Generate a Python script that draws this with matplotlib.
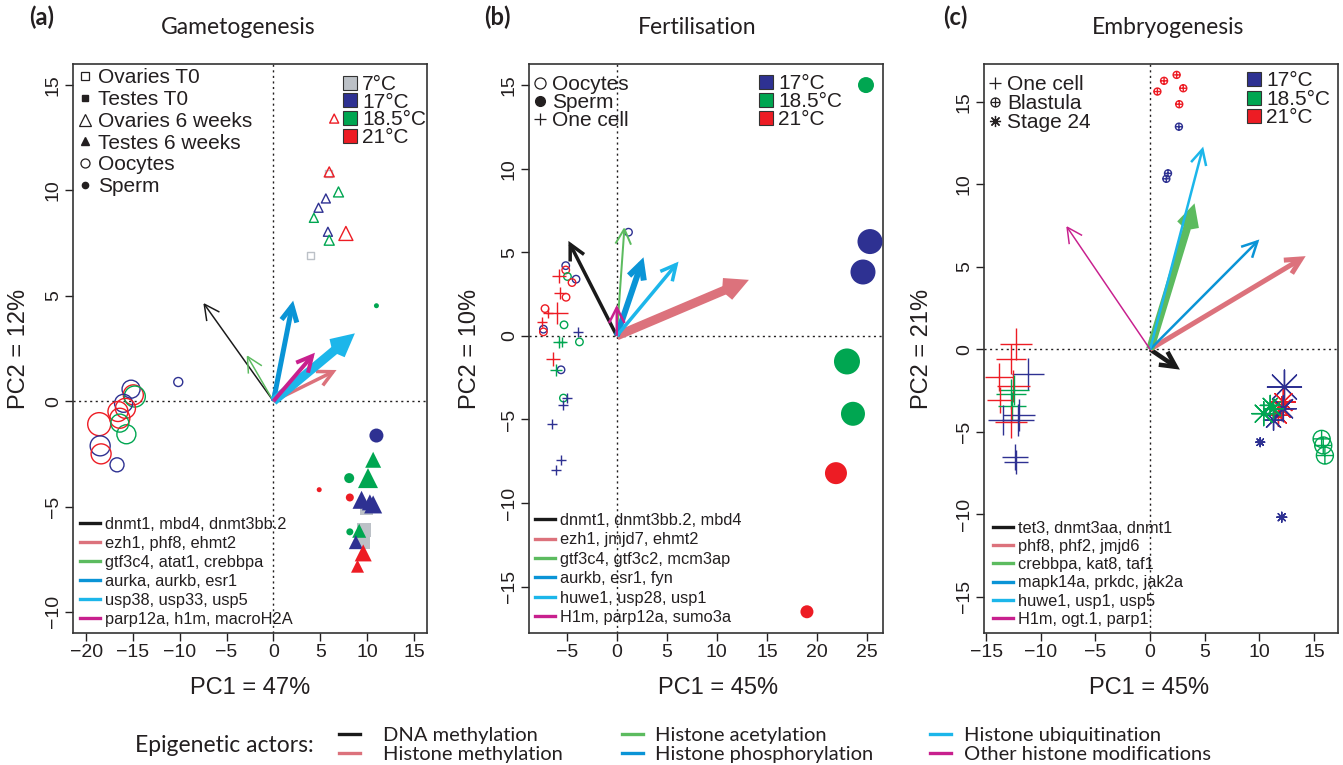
import matplotlib
matplotlib.use("Agg")
import matplotlib.pyplot as plt
import numpy as np
from matplotlib.lines import Line2D
from matplotlib.path import Path

plt.rcParams["font.family"] = ["Liberation Sans", "DejaVu Sans"]
plt.rcParams["axes.unicode_minus"] = True

# --- colours ---------------------------------------------------------
TEMP_COLOURS = {"7": "#bcc1c7", "17": "#2e3192", "18.5": "#00a651", "21": "#ed1c24"}
ACTORS = ["DNA methylation", "Histone methylation", "Histone acetylation",
          "Histone phosphorylation", "Histone ubiquitination",
          "Other histone modifications"]
ACTOR_COLOURS = ["#1a1a1a", "#dc727c", "#5cbb5f", "#0a94d6", "#1cb6ea", "#c8208e"]

# --- (a) gametogenesis -----------------------------------------------
a_ovT0_x = [5.9, 3.97]
a_ovT0_y = [10.8, 6.89]
a_ovT0_t = ["7", "7"]
a_ovT0_cex = [7, 7]

a_teT0_x = [9.94, 9.69, 9.58]
a_teT0_y = [-5.1, -6.1, -6.7]
a_teT0_t = ["7", "7", "7"]
a_teT0_cex = [13, 14, 13]

a_ov6_x = [5.96, 6.95, 5.6, 4.82, 4.32, 5.82, 7.74, 5.96, 6.49]
a_ov6_y = [10.88, 9.93, 9.62, 9.18, 8.70, 8.04, 7.96, 7.64, 13.41]
a_ov6_t = ["21", "18.5", "17", "17", "18.5", "17", "21", "18.5", "21"]
a_ov6_cex = [10, 10, 9, 9, 9, 9, 14, 10, 9]

a_te6_x = [10.65, 10.1, 9.41, 10.3, 10.65, 9.16, 8.8, 9.59, 8.98]
a_te6_y = [-2.78, -3.65, -4.68, -4.8, -4.9, -6.15, -6.69, -7.2, -7.83]
a_te6_t = ["18.5", "18.5", "17", "17", "17", "18.5", "17", "21", "21"]
a_te6_cex = [16, 20, 18, 16, 18, 14, 14, 17, 13]

a_oo_x = [-18.6, -18.5, -18.4, -16.7, -15.7, -15.2, -14.96, -14.8, -16.0,
          -15.8, -16.6, -16.4, -16.4, -10.16]
a_oo_y = [-1.09, -2.12, -2.5, -3.02, -1.57, 0.57, 0.30, 0.22, -0.1,
          -0.34, -0.49, -0.81, -1.04, 0.91]
a_oo_t = ["21", "17", "21", "17", "18.5", "17", "21", "18.5", "17",
          "21", "21", "21", "18.5", "17"]
a_oo_cex = [23, 20, 20, 14, 19, 18, 20, 21, 18, 20, 20, 20, 18, 9]

a_sp_x = [11.0, 8.09, 4.89, 8.16, 8.16, 11.0]
a_sp_y = [-1.63, -3.65, -4.2, -4.57, -6.2, 4.53]
a_sp_t = ["17", "18.5", "21", "21", "18.5", "18.5"]
a_sp_cex = [14, 10, 5, 8, 7, 5]

a_arrow_x = [-7.49, 6.74, -2.86, 2.11, 8.7, 4.43]
a_arrow_y = [4.67, 1.48, 2.19, 4.77, 3.22, 2.3]
a_arrow_lwd = [1.5, 3.5, 1.5, 5, 9, 4]
a_genes = ["dnmt1, mbd4, dnmt3bb.2", "ezh1, phf8, ehmt2", "gtf3c4, atat1, crebbpa",
           "aurka, aurkb, esr1", "usp38, usp33, usp5", "parp12a, h1m, macroH2A"]

# --- (b) fertilisation -----------------------------------------------
b_oo_x = [1.17, -5.1, -5.1, -4.93, -4.07, -4.47, -5.07, -7.17, -5.27,
          -7.33, -7.33, -3.73, -5.57, -5.33]
b_oo_y = [6.2, 4.2, 3.94, 3.55, 3.39, 3.19, 2.31, 1.63, 0.66,
          0.40, 0.24, -0.36, -2.03, -3.72]
b_oo_t = ["17", "17", "21", "18.5", "17", "21", "21", "21", "18.5",
          "17", "21", "18.5", "17", "18.5"]

b_sp_x = [24.9, 25.3, 24.6, 23.0, 23.6, 21.9, 19.0]
b_sp_y = [15.0, 5.64, 3.82, -1.53, -4.66, -8.21, -16.5]
b_sp_t = ["18.5", "17", "17", "18.5", "18.5", "21", "21"]
b_sp_cex = [16, 25, 25, 26, 24, 22, 13]

b_oc_x = [-5.77, -5.67, -6.0, -6.83, -7.5, -3.9, -5.77, -5.5, -6.33, -6.07,
          -5.0, -5.33, -6.43, -5.6, -6.07]
b_oc_y = [3.59, 2.55, 1.39, 1.39, 0.8, 0.26, -0.36, -0.36, -1.39, -2.03,
          -3.72, -4.12, -5.28, -7.45, -8.0]
b_oc_t = ["21", "21", "21", "21", "21", "17", "18.5", "18.5", "21", "18.5",
          "17", "17", "17", "17", "17"]
b_oc_cex = [14, 12, 22, 10, 10, 10, 12, 10, 14, 12, 10, 10, 10, 10, 10]

b_arrow_x = [-4.83, 13.2, 0.77, 2.67, 6.17, 0.0]
b_arrow_y = [5.68, 3.35, 6.53, 4.7, 4.44, 1.85]
b_arrow_lwd = [3.5, 9, 2, 6, 3.5, 2.5]
b_genes = ["dnmt1, dnmt3bb.2, mbd4", "ezh1, jmjd7, ehmt2", "gtf3c4, gtf3c2, mcm3ap",
           "aurkb, esr1, fyn", "huwe1, usp28, usp1", "H1m, parp12a, sumo3a"]

# --- (c) embryogenesis -----------------------------------------------
c_oc_x = [-12.3, -12.75, -11.2, -13.8, -12.5, -12.45, -12.7, -13.7, -12.6,
          -12.0, -13.45, -12.75, -12.1, -12.4, -12.3]
c_oc_y = [0.3, -0.57, -1.48, -1.68, -2.25, -2.49, -2.73, -3.1, -3.46,
          -4.0, -4.3, -4.41, -4.3, -6.54, -6.84]
c_oc_t = ["21", "21", "17", "21", "21", "18.5", "18.5", "21", "18.5",
          "17", "17", "21", "17", "17", "17"]
c_oc_cex = [32, 30, 32, 28, 32, 30, 30, 26, 28, 32, 30, 32, 32, 26, 24]

c_bl_x = [0.67, 1.28, 2.43, 3.04, 2.67, 2.64, 1.64, 1.49, 15.7, 15.85, 16.0]
c_bl_y = [15.63, 16.28, 16.64, 15.83, 14.86, 13.5, 10.67, 10.34, -5.43, -5.83, -6.44]
c_bl_t = ["21", "21", "21", "21", "21", "17", "17", "17", "18.5", "18.5", "18.5"]
c_bl_cex = [7, 7, 7, 7, 7, 7, 7, 7, 17, 17, 17]

c_st_x = [10.08, 12.05, 12.3, 12.2, 12.05, 11.75, 12.2, 11.3, 11.0, 10.4, 11.3]
c_st_y = [-5.63, -10.18, -2.29, -3.2, -3.6, -4.0, -3.6, -4.3, -3.4, -3.9, -3.6]
c_st_t = ["17", "17", "17", "21", "21", "21", "17", "17", "18.5", "18.5", "18.5"]
c_st_cex = [9, 10, 34, 24, 24, 22, 26, 20, 20, 24, 20]

c_arrow_x = [2.73, 14.24, 4.07, 10.0, 4.86, -7.68]
c_arrow_y = [-1.23, 5.65, 8.85, 6.66, 12.29, 7.49]
c_arrow_lwd = [4.5, 5, 8, 2.5, 2.5, 1.5]
c_genes = ["tet3, dnmt3aa, dnmt1", "phf8, phf2, jmjd6", "crebbpa, kat8, taf1",
           "mapk14a, prkdc, jak2a", "huwe1, usp1, usp5", "H1m, ogt.1, parp1"]

# circle with a plus inside (R pch 10)
OPLUS = Path.make_compound_path(
    Path.unit_circle(),
    Path([[-1, 0], [1, 0], [0, -1], [0, 1]],
         [Path.MOVETO, Path.LINETO, Path.MOVETO, Path.LINETO]))
ASTER = (8, 2, 0)
INK = "#231f20"
W, H = 1343, 765
AX_LEFT, AX_TOP, AX_BOTTOM, AX_W = [73, 529, 984], 64, 633, 354
AX_H = AX_BOTTOM - AX_TOP
TITLE_FONT = ["Lato", "DejaVu Sans"]


def s_pt(px):
    # marker width in image pixels -> scatter area in points^2 (dpi 100)
    return (np.asarray(px, dtype=float) * 0.72) ** 2


def points(ax, x, y, temps, cex, marker, filled, lw=1.0):
    cols = [TEMP_COLOURS[t] for t in temps]
    if filled:
        ax.scatter(x, y, s=s_pt(cex), marker=marker, c=cols, linewidths=0, zorder=3)
    elif marker in ("+", ASTER):
        ax.scatter(x, y, s=s_pt(cex), marker=marker, c=cols, linewidths=lw, zorder=3)
    else:
        ax.scatter(x, y, s=s_pt(cex), marker=marker, facecolors="none",
                   edgecolors=cols, linewidths=lw, zorder=3)


def arrows(ax, xs, ys, lwds):
    for x, y, w, col in zip(xs, ys, lwds, ACTOR_COLOURS):
        ax.annotate("", xy=(x, y), xytext=(0, 0), zorder=4,
                    arrowprops=dict(arrowstyle="->,head_length=0.55,head_width=0.28",
                                    color=col, lw=w * 0.72, shrinkA=0, shrinkB=0,
                                    mutation_scale=20, joinstyle="miter",
                                    capstyle="butt"))


def frame(ax, xlim, ylim, xticks, yticks, xlabel, ylabel, xlab_pos, ylab_pos):
    ax.set_xlim(xlim)
    ax.set_ylim(ylim)
    ax.set_xticks(xticks)
    ax.set_yticks(yticks)
    ax.tick_params(direction="out", length=6, width=1, labelsize=14, pad=2,
                   colors=INK)
    ax.tick_params(axis="y", labelrotation=90)
    for lab in ax.get_yticklabels():
        lab.set_va("center")
    for sp in ax.spines.values():
        sp.set_linewidth(1.2)
        sp.set_color("#333333")
    ax.axhline(0, color=INK, lw=1, ls=(0, (1.5, 2.5)), zorder=1)
    ax.axvline(0, color=INK, lw=1, ls=(0, (1.5, 2.5)), zorder=1)
    ax.set_xlabel(xlabel, fontsize=17, va="center", color=INK)
    ax.set_ylabel(ylabel, fontsize=17, va="center", color=INK)
    ax.xaxis.set_label_coords(xlab_pos, -0.097)
    ax.yaxis.set_label_coords(ylab_pos, 0.5)


def anchor(ax_i, x_px, y_px):
    # image pixel -> axes fraction of panel ax_i
    return ((x_px - AX_LEFT[ax_i]) / AX_W, (AX_BOTTOM - y_px) / AX_H)


def gene_legend(ax, ax_i, genes, x_px, bottom_px, spacing):
    handles = [Line2D([], [], color=c, lw=2.4) for c in ACTOR_COLOURS]
    ax.legend(handles, genes, loc="lower left", bbox_to_anchor=anchor(ax_i, x_px, bottom_px),
              frameon=False, fontsize=11.8, handlelength=1.2, handletextpad=0.3,
              labelspacing=spacing, borderaxespad=0, borderpad=0, labelcolor=INK)


def temp_legend(ax, ax_i, temps, x_px, top_px, spacing):
    handles = [Line2D([], [], marker="s", ls="", ms=9.5, mfc=TEMP_COLOURS[t],
                      mec="#333333", mew=0.8) for t in temps]
    leg = ax.legend(handles, [f"{t}°C" for t in temps], loc="upper left",
                    bbox_to_anchor=anchor(ax_i, x_px, top_px), frameon=False,
                    fontsize=15, handlelength=0.6, handletextpad=0.29,
                    labelspacing=spacing, borderaxespad=0, borderpad=0,
                    labelcolor=INK)
    ax.add_artist(leg)


def marker_legend(ax, ax_i, handles, labels, x_px, top_px, spacing, pad):
    leg = ax.legend(handles, labels, loc="upper left",
                    bbox_to_anchor=anchor(ax_i, x_px, top_px), frameon=False,
                    fontsize=15, handlelength=0.7, handletextpad=pad,
                    labelspacing=spacing, borderaxespad=0, borderpad=0,
                    labelcolor=INK)
    ax.add_artist(leg)


fig = plt.figure(figsize=(13.43, 7.65), dpi=100)
axs = [fig.add_axes([l / W, 1 - AX_BOTTOM / H, AX_W / W, AX_H / H]) for l in AX_LEFT]

# --- panel (a) -----
ax = axs[0]
frame(ax, (-21.4, 16.4), (-11.0, 16.0), range(-20, 16, 5), range(-10, 16, 5),
      "PC1 = 47%", "PC2 = 12%", 0.5, -0.153)
points(ax, a_ovT0_x, a_ovT0_y, a_ovT0_t, a_ovT0_cex, "s", False)
points(ax, a_teT0_x, a_teT0_y, a_teT0_t, a_teT0_cex, "s", True)
points(ax, a_ov6_x, a_ov6_y, a_ov6_t, a_ov6_cex, "^", False)
points(ax, a_te6_x, a_te6_y, a_te6_t, a_te6_cex, "^", True)
points(ax, a_oo_x, a_oo_y, a_oo_t, a_oo_cex, "o", False)
points(ax, a_sp_x, a_sp_y, a_sp_t, a_sp_cex, "o", True)
arrows(ax, a_arrow_x, a_arrow_y, a_arrow_lwd)
temp_legend(ax, 0, ["7", "17", "18.5", "21"], 343.7, 75, -0.06)
mk = [Line2D([], [], marker="s", ls="", ms=6, mfc="none", mec=INK, mew=0.9),
      Line2D([], [], marker="s", ls="", ms=4.5, mfc=INK, mec=INK),
      Line2D([], [], marker="^", ls="", ms=8, mfc="none", mec=INK, mew=0.9),
      Line2D([], [], marker="^", ls="", ms=6, mfc=INK, mec=INK),
      Line2D([], [], marker="o", ls="", ms=6.5, mfc="none", mec=INK, mew=0.9),
      Line2D([], [], marker="o", ls="", ms=4.5, mfc=INK, mec=INK)]
marker_legend(ax, 0, mk, ["Ovaries T0", "Testes T0", "Ovaries 6 weeks", "Testes 6 weeks",
                          "Oocytes", "Sperm"], 77.7, 68.5, 0.13, 0.27)
gene_legend(ax, 0, a_genes, 80, 627, 0.25)

# --- panel (b) -----
ax = axs[1]
frame(ax, (-8.77, 26.6), (-17.77, 16.26), range(-5, 26, 5), range(-15, 16, 5),
      "PC1 = 45%", "PC2 = 10%", 0.534, -0.167)
points(ax, b_oo_x, b_oo_y, b_oo_t, [7.5] * len(b_oo_x), "o", False)
points(ax, b_sp_x, b_sp_y, b_sp_t, b_sp_cex, "o", True)
points(ax, b_oc_x, b_oc_y, b_oc_t, b_oc_cex, "+", False)
arrows(ax, b_arrow_x, b_arrow_y, b_arrow_lwd)
temp_legend(ax, 1, ["17", "18.5", "21"], 759.7, 74.5, -0.06)
mk = [Line2D([], [], marker="o", ls="", ms=8, mfc="none", mec=INK, mew=0.9),
      Line2D([], [], marker="o", ls="", ms=7, mfc=INK, mec=INK),
      Line2D([], [], marker="+", ls="", ms=9, mec=INK, mew=0.9)]
marker_legend(ax, 1, mk, ["Oocytes", "Sperm", "One cell"], 532.7, 75, -0.04, 0.23)
gene_legend(ax, 1, b_genes, 535, 625, 0.27)

# --- panel (c) -----
ax = axs[2]
frame(ax, (-15.2, 17.2), (-17.2, 17.3), range(-15, 16, 5), range(-15, 16, 5),
      "PC1 = 45%", "PC2 = 21%", 0.466, -0.175)
points(ax, c_oc_x, c_oc_y, c_oc_t, c_oc_cex, "+", False)
points(ax, c_bl_x, c_bl_y, c_bl_t, c_bl_cex, OPLUS, False)
points(ax, c_st_x, c_st_y, c_st_t, c_st_cex, ASTER, False)
arrows(ax, c_arrow_x, c_arrow_y, c_arrow_lwd)
temp_legend(ax, 2, ["17", "18.5", "21"], 1247.7, 71.5, -0.03)
mk = [Line2D([], [], marker="+", ls="", ms=9, mec=INK, mew=0.9),
      Line2D([], [], marker=OPLUS, ls="", ms=6.5, mfc="none", mec=INK, mew=0.9),
      Line2D([], [], marker=ASTER, ls="", ms=8, mec=INK, mew=0.9)]
marker_legend(ax, 2, mk, ["One cell", "Blastula", "Stage 24"], 987.7, 75, 0.0, 0.23)
gene_legend(ax, 2, c_genes, 993, 627, 0.2)

# --- titles and panel letters -----
for x, title in zip([238, 697, 1168], ["Gametogenesis", "Fertilisation", "Embryogenesis"]):
    fig.text(x / W, 1 - 28 / H, title, ha="center", va="center", fontsize=16.5,
             family=TITLE_FONT, color=INK)
for x, lab in zip([42, 497, 955], ["(a)", "(b)", "(c)"]):
    fig.text(x / W, 1 - 17 / H, lab, ha="center", va="center", fontsize=17,
             fontweight="bold", family=TITLE_FONT, color=INK)

# --- bottom legend: epigenetic actors, one legend per column -----
fig.text(135 / W, 1 - 745 / H, "Epigenetic actors:", ha="left", va="center",
         fontsize=16.5, family=TITLE_FONT, color=INK)
for col, (x_px, pad) in enumerate([(339, 1.15), (622, 0.6), (930, 0.65)]):
    idx = [2 * col, 2 * col + 1]
    handles = [Line2D([], [], color=ACTOR_COLOURS[i], lw=2.4) for i in idx]
    leg = fig.legend(handles, [ACTORS[i] for i in idx], loc="center left",
                     bbox_to_anchor=(x_px / W, 1 - 745 / H), frameon=False,
                     prop={"family": TITLE_FONT, "size": 14.5},
                     handlelength=1.05, handletextpad=pad, labelspacing=0.05,
                     borderpad=0, borderaxespad=0, labelcolor=INK)

fig.savefig("out.png", dpi=100)
